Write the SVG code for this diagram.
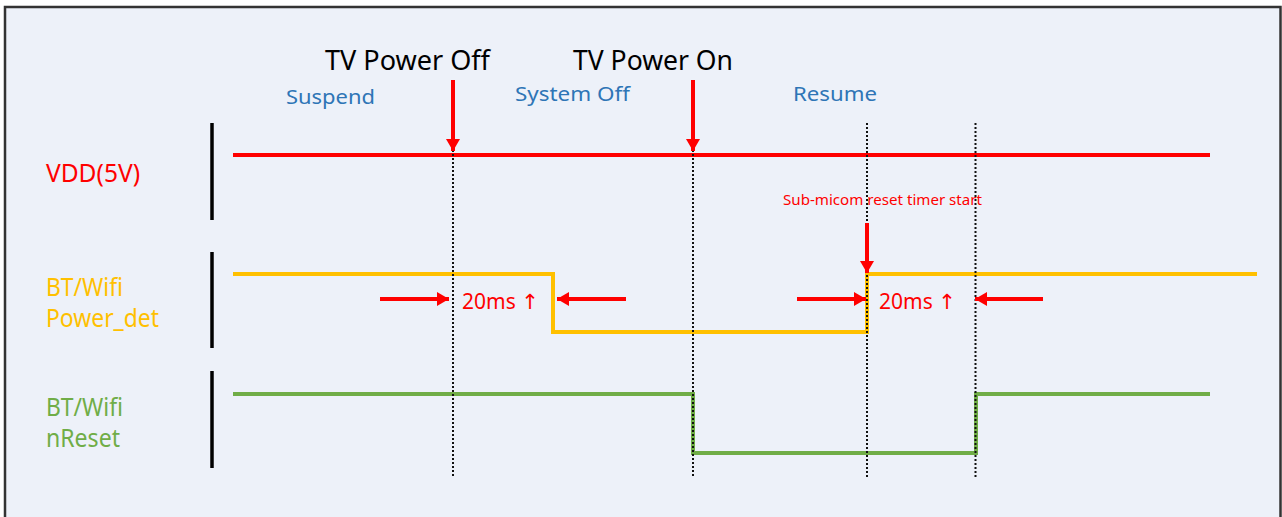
<svg xmlns="http://www.w3.org/2000/svg" width="1282" height="517" viewBox="0 0 1282 517">
<defs>
<marker id="ah" viewBox="0 0 12 14" refX="12" refY="7" markerWidth="12" markerHeight="14" markerUnits="userSpaceOnUse" orient="auto">
<path d="M0,0 L12,7 L0,14 Z" fill="#FF0000"/>
</marker>
<style>
.sig{fill:none;stroke-width:4;stroke-linejoin:miter}
.bar{stroke:#000;stroke-width:3.5}
.dot{stroke:#111;stroke-width:2;stroke-dasharray:2 2}
.arr{stroke:#FF0000;stroke-width:4;marker-end:url(#ah)}
.t{font-family:"Noto Sans","Open Sans",sans-serif}
.lbl{font-family:"Noto Sans","Open Sans",sans-serif;font-size:25px}
.ph{font-family:"Noto Sans","Open Sans",sans-serif;font-size:20px;fill:#2E75B6}
.big{font-family:"Noto Sans","Open Sans",sans-serif;font-size:27px;fill:#000}
.ms{font-family:"Noto Sans","Open Sans",sans-serif;font-size:21px;fill:#FF0000}
.up{font-family:"DejaVu Sans",sans-serif}
</style>
</defs>
<rect x="0" y="0" width="1282" height="517" fill="#FFFFFF"/>
<rect x="5" y="7" width="1275.5" height="520" fill="#EDF1F9" stroke="#333" stroke-width="2.5"/>

<g id="headers">
<text class="big" x="325" y="70" textLength="165" lengthAdjust="spacingAndGlyphs">TV Power Off</text>
<text class="big" x="573" y="70" textLength="160" lengthAdjust="spacingAndGlyphs">TV Power On</text>
<text class="ph" x="286" y="104" textLength="89" lengthAdjust="spacingAndGlyphs">Suspend</text>
<text class="ph" x="515" y="101" textLength="115" lengthAdjust="spacingAndGlyphs">System Off</text>
<text class="ph" x="793" y="101" textLength="84" lengthAdjust="spacingAndGlyphs">Resume</text>
</g>

<g id="labels">
<text class="lbl" x="46" y="182" fill="#FF0000" textLength="94" lengthAdjust="spacingAndGlyphs">VDD(5V)</text>
<text class="lbl" x="46" y="296" fill="#FFC000" textLength="77" lengthAdjust="spacingAndGlyphs">BT/Wifi</text>
<text class="lbl" x="46" y="327" fill="#FFC000" textLength="113" lengthAdjust="spacingAndGlyphs">Power_det</text>
<text class="lbl" x="46" y="416" fill="#70AD47" textLength="77" lengthAdjust="spacingAndGlyphs">BT/Wifi</text>
<text class="lbl" x="46" y="447" fill="#70AD47" textLength="74" lengthAdjust="spacingAndGlyphs">nReset</text>
<line class="bar" x1="212" y1="123" x2="212" y2="220"/>
<line class="bar" x1="212" y1="252" x2="212" y2="348"/>
<line class="bar" x1="212" y1="371" x2="212" y2="468"/>
</g>

<g id="vdd">
<path class="sig" stroke="#FF0000" d="M233,155 H1210"/>
</g>
<g id="power_det">
<path class="sig" stroke="#FFC000" d="M233,274 H553 V332 H867 V274 H1257"/>
</g>
<g id="nreset">
<path class="sig" stroke="#70AD47" d="M233,394 H693 V453 H976 V394 H1210"/>
</g>

<g id="connectors">
<line class="dot" x1="453" y1="150" x2="453" y2="478"/>
<line class="dot" x1="693" y1="150" x2="693" y2="478"/>
<line class="dot" x1="867" y1="123" x2="867" y2="478"/>
<line class="dot" x1="975.5" y1="123" x2="975.5" y2="478"/>
<line class="arr" x1="453" y1="80" x2="453" y2="151"/>
<line class="arr" x1="693" y1="80" x2="693" y2="151"/>
<line class="arr" x1="867" y1="223" x2="867" y2="273"/>
<line class="arr" x1="380" y1="299" x2="449" y2="299"/>
<line class="arr" x1="626" y1="299" x2="557" y2="299"/>
<line class="arr" x1="797" y1="299" x2="866" y2="299"/>
<line class="arr" x1="1043" y1="299" x2="975" y2="299"/>
</g>

<g id="annotations">
<text class="ms" x="462" y="309">20ms <tspan class="up">↑</tspan></text>
<text class="ms" x="879" y="309">20ms <tspan class="up">↑</tspan></text>
<text class="t" x="783" y="205" font-size="14" fill="#FF0000" textLength="199" lengthAdjust="spacingAndGlyphs">Sub-micom reset timer start</text>
</g>
</svg>
